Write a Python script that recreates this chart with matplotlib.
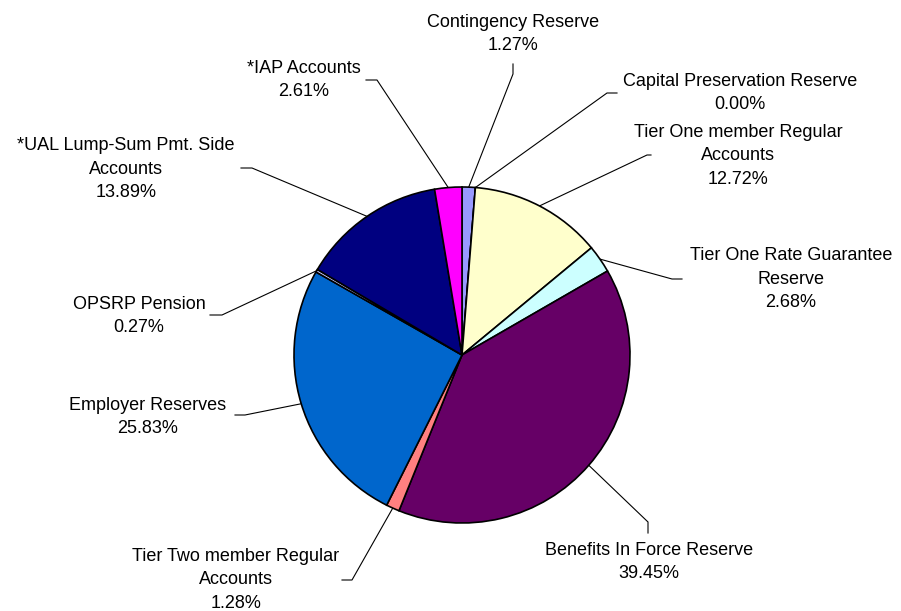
import numpy as np
import matplotlib
matplotlib.use("Agg")
import matplotlib.pyplot as plt

labels = ["Contingency Reserve", "Capital Preservation Reserve",
          "Tier One member Regular\nAccounts", "Tier One Rate Guarantee\nReserve",
          "Benefits In Force Reserve", "Tier Two member Regular\nAccounts",
          "Employer Reserves", "OPSRP Pension",
          "*UAL Lump-Sum Pmt. Side\nAccounts", "*IAP Accounts"]
values = [1.27, 0.00, 12.72, 2.68, 39.45, 1.28, 25.83, 0.27, 13.89, 2.61]
colors = ["#9999FF", "#FFFFFF", "#FFFFCC", "#CCFFFF", "#660066", "#FF8080",
          "#0066CC", "#CCCCFF", "#000080", "#FF00FF"]

# layout (pixel coords, y from top): text center, stub start (near text), bend point
text_pos = [(513, 34), (740, 93), (738, 156), (791, 279), (649, 562),
            (236, 580), (148, 417), (139, 316), (126, 169), (304, 80)]
stub_a = [(513, 64), (617, 93), (651, 155), (682, 279), (648, 533),
          (342, 580), (235, 415), (210, 315), (241, 168), (366, 80)]
stub_b = [(513, 74), (607, 93), (647, 155), (672, 279), (648, 522),
          (352, 580), (245, 415), (222, 315), (252, 168), (377, 80)]

W, H = 901, 611
fig = plt.figure(figsize=(W / 100, H / 100), dpi=100)
ax = fig.add_axes([0, 0, 1, 1])
cx, cy, R = 462, H - 355, 168
wedges, _ = ax.pie(values, colors=colors, startangle=90, counterclock=False,
                   radius=R, center=(cx, cy),
                   wedgeprops=dict(edgecolor="black", linewidth=1.2))
ax.set_xlim(0, W)
ax.set_ylim(0, H)
ax.set_aspect("equal")
ax.axis("off")

def Y(y):
    return H - y

for w, lab, v, tp, sa, sb in zip(wedges, labels, values, text_pos, stub_a, stub_b):
    mid = np.deg2rad((w.theta1 + w.theta2) / 2)
    ex, ey = cx + R * np.cos(mid), cy + R * np.sin(mid)
    ax.plot([sa[0], sb[0], ex], [Y(sa[1]), Y(sb[1]), ey], color="black", lw=0.8,
            solid_joinstyle="miter", zorder=0)
    ax.text(tp[0], Y(tp[1]), f"{lab}\n{v:.2f}%", ha="center", va="center",
            fontsize=13, family=["Liberation Sans", "DejaVu Sans"],
            linespacing=1.5, color="black")

fig.savefig("out.png", dpi=100)
